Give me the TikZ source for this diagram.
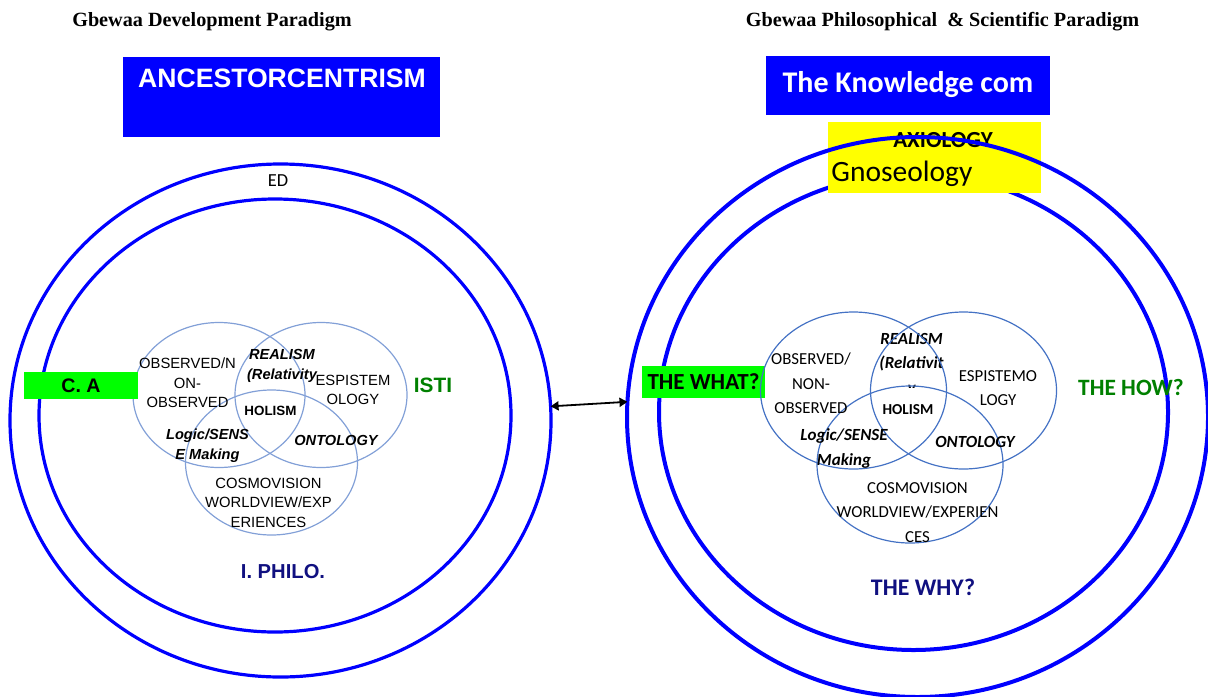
\documentclass[tikz,border=0pt]{standalone}
\usepackage{fontspec}
\setmainfont{Liberation Serif}
\newfontfamily\arialf{Liberation Sans}
\newfontfamily\calibf{Carlito}
\definecolor{ringblue}{RGB}{0,0,255}
\definecolor{vennlight}{RGB}{130,160,215}
\definecolor{venndark}{RGB}{68,114,196}
\definecolor{boxgreen}{RGB}{0,255,0}
\definecolor{boxyellow}{RGB}{255,255,0}
\definecolor{txtgreen}{RGB}{0,128,0}
\definecolor{txtnavy}{RGB}{16,16,128}
\usetikzlibrary{arrows.meta,positioning,shapes.geometric}

\begin{document}
\begin{tikzpicture}[x=0.5pt,y=-0.5pt,
  heading/.style={font=\bfseries\fontsize{10.1}{12}\selectfont},
  ring/.style={draw=ringblue,ellipse,inner sep=0pt,outer sep=0pt},
  venn/.style={draw=#1,ellipse,inner sep=0pt,outer sep=0pt,line width=0.6pt},
  fillbox/.style={fill=#1,inner sep=0pt,outer sep=0pt},
  lvtext/.style={font=\arialf\fontsize{7.4}{9.8}\selectfont,align=center,inner sep=0pt},
  lvbold/.style={font=\arialf\bfseries\itshape\fontsize{7.3}{9.8}\selectfont,align=center,inner sep=0pt},
  rvtext/.style={font=\calibf\fontsize{8.4}{12.2}\selectfont,align=center,inner sep=0pt},
  rvbold/.style={font=\calibf\bfseries\itshape\fontsize{8.5}{12.2}\selectfont,align=center,inner sep=0pt},
  bigword/.style={font=\arialf\bfseries\fontsize{#1}{#1}\selectfont,inner sep=0pt},
  calword/.style={font=\calibf\bfseries\fontsize{#1}{#1}\selectfont,inner sep=0pt}
]
  \useasboundingbox (0,0) rectangle (1208,696);
  % Titles
  \node[heading] (ltitle) at (212,22) {Gbewaa Development Paradigm};
  \node[heading] (rtitle) at (942.5,22) {Gbewaa Philosophical~ \& Scientific Paradigm};

  % Left diagram
  \node[fillbox=ringblue,minimum width=158.5pt,minimum height=40pt] (ancbox) at (281.5,97) {};
  \node[bigword=13.3,text=white] (anctext) at (282,78) {ANCESTORCENTRISM};
  \node[ring,line width=1.6pt,minimum width=270.5pt,minimum height=256.5pt] (louter) at (280.5,420.5) {};
  \node[ring,line width=1.6pt,minimum width=236pt,minimum height=216.5pt] (linner) at (275,415.5) {};
  \node[font=\calibf\fontsize{9.2}{11}\selectfont,inner sep=0pt] (ed) at (278,181) {ED};
  \node[venn=vennlight,minimum width=86pt,minimum height=72.5pt] (lva) at (219,395) {};
  \node[venn=vennlight,minimum width=86pt,minimum height=72.5pt] (lvb) at (321,395) {};
  \node[venn=vennlight,minimum width=86pt,minimum height=72.5pt] (lvc) at (271.5,462.5) {};
  \node[fillbox=boxgreen,minimum width=57pt,minimum height=13.5pt,font=\arialf\bfseries\fontsize{9.8}{12}\selectfont] (ca) at (81,385.5) {C. A};
  \node[bigword=10.4,text=txtgreen] (isti) at (433,385) {ISTI};
  \node[bigword=10.1,text=txtnavy] (iphilo) at (283,572) {I. PHILO.};
  % Left venn labels
  \node[lvtext] (lobs) at (187.5,383) {OBSERVED/N\\ON-\\OBSERVED};
  \node[lvbold] (lreal) at (282,366) {REALISM\\(Relativity};
  \node[lvtext] (lepi) at (353,390) {ESPISTEM\\OLOGY};
  \node[font=\arialf\bfseries\fontsize{6.7}{8}\selectfont,inner sep=0pt] (lhol) at (270.5,410.6) {HOLISM};
  \node[lvbold] (llogic) at (207.5,446) {Logic/SENS\\E Making};
  \node[lvbold] (lont) at (336,440) {ONTOLOGY};
  \node[lvtext] (lcos) at (268.5,502.5) {COSMOVISION\\WORLDVIEW/EXP\\ERIENCES};

  % Right diagram
  \node[fillbox=ringblue,minimum width=142pt,minimum height=29.5pt] (knowbox) at (908,85.5) {};
  \node[calword=15,text=white] (knowtext) at (908,85) {The Knowledge com};
  \node[ring,line width=2pt,minimum width=254.5pt,minimum height=238pt] (rinner) at (913.5,412) {};
  \node[fillbox=boxyellow,minimum width=106.5pt,minimum height=35.5pt] (gnobox) at (934.5,157.5) {};
  \node[calword=11.5] (axio) at (943,140) {AXIOLOGY};
  \node[font=\calibf\fontsize{14.75}{16}\selectfont,inner sep=0pt,anchor=west] (gnos) at (831,174) {Gnoseology};
  \node[ring,line width=2pt,minimum width=290.5pt,minimum height=280pt] (router) at (917.5,417) {};
  \node[fillbox=boxgreen,minimum width=61.5pt,minimum height=16pt] (whatbox) at (703.5,382) {};
  \node[calword=11.5] (what) at (703.5,382) {THE WHAT?};
  \node[calword=11.7,text=txtgreen] (how) at (1131,387) {THE HOW?};
  \node[calword=11.9,text=txtnavy] (why) at (923,587) {THE WHY?};
  % Right venn labels
  \node[rvbold] (rreal) at (911.5,364.5) {REALISM\\(Relativit\\y};
  \node[font=\calibf\bfseries\fontsize{7.6}{9}\selectfont,fill=white,text height=12.2pt,text depth=0pt,
    inner xsep=2pt,inner ysep=1pt,anchor=base] (rhol) at (908,414.5) {HOLISM};
  \node[venn=venndark,minimum width=93pt,minimum height=78.5pt] (rva) at (853.5,390.5) {};
  \node[venn=venndark,minimum width=93pt,minimum height=78.5pt] (rvb) at (963.5,390.5) {};
  \node[venn=venndark,minimum width=93pt,minimum height=78.5pt] (rvc) at (910,464.5) {};
  \node[rvtext] (robs) at (811,383.5) {OBSERVED/\\NON-\\OBSERVED};
  \node[rvtext] (repi) at (998,388) {ESPISTEMO\\LOGY};
  \node[rvbold] (rlogic) at (844,448.5) {Logic/SENSE\\Making};
  \node[rvbold] (ront) at (975,442) {ONTOLOGY};
  \node[rvtext] (rcos) at (917.5,512.4) {COSMOVISION\\WORLDVIEW/EXPERIEN\\CES};

  % Link between the two paradigms
  \draw[{Triangle[length=4pt,width=4.5pt]}-{Triangle[length=4pt,width=4.5pt]},line width=0.9pt] (louter.3) -- (router.177);
\end{tikzpicture}
\end{document}
